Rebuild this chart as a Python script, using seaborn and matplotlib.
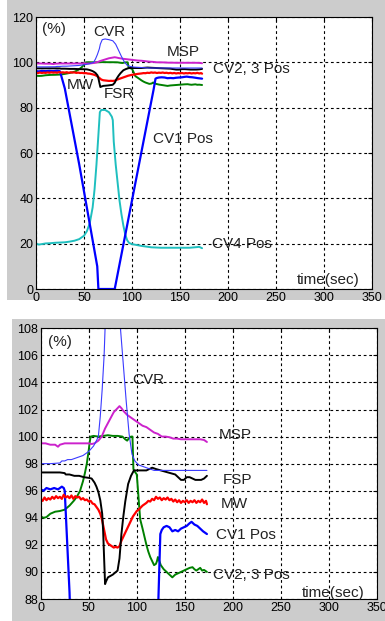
import numpy as np
import pandas as pd
import matplotlib
matplotlib.use("Agg")
import matplotlib.pyplot as plt
import seaborn as sns
from matplotlib.patches import Rectangle

sns.set_style("white")
plt.rcParams['font.family'] = ['Liberation Sans', 'DejaVu Sans']

# ---------------- data ----------------
cv1_t = [0, 3, 6, 10, 14, 18, 22, 24, 25, 30, 45, 63.8, 65, 82, 122.5, 124.5, 126, 128, 131, 134,
         137, 140, 143, 146, 149, 152, 155, 157, 160, 163, 166, 169, 171, 173]
cv1_v = [96.1, 96.0, 96.2, 96.1, 96.2, 96.1, 96.3, 96.2, 96.0, 88.5, 55, 10, 0, 0, 88, 92.8, 93.1, 93.3,
         93.4, 93.3, 93.0, 93.1, 93.0, 93.2, 93.3, 93.4, 93.6, 93.7, 93.5, 93.4, 93.2, 93.0, 92.9, 92.8]

cvr_t = [0, 10, 20, 22, 25, 28, 32, 36, 40, 44, 48, 50, 55, 58, 60, 62, 64, 66, 67, 69, 72, 76,
         80, 83, 86, 89, 92, 95, 98, 102, 106, 110, 114, 118, 122, 130, 173]
cvr_v = [98.0, 98.0, 98.05, 98.2, 98.2, 98.3, 98.3, 98.4, 98.5, 98.6, 98.8, 98.9, 99.3, 99.7, 100.0,
         101.5, 103.5, 106.0, 108.0, 110.0, 110.3, 110.0, 109.5, 108.0, 105.3, 102.6, 100.2, 98.7,
         98.2, 97.9, 97.8, 97.7, 97.6, 97.5, 97.5, 97.5, 97.5]

msp_t = [0, 5, 10, 15, 18, 20, 25, 30, 35, 40, 45, 50, 53, 56, 60, 63.5, 67, 70, 73, 76, 80, 82,
         84, 86, 90, 94, 98, 102, 106, 110, 114, 118, 122, 126, 130, 134, 138, 142, 146, 150, 154,
         158, 162, 166, 170, 173]
msp_v = [99.5, 99.5, 99.4, 99.4, 99.25, 99.4, 99.5, 99.5, 99.5, 99.5, 99.5, 99.5, 99.45, 99.5, 99.7,
         100.0, 100.6, 101.0, 101.4, 101.8, 102.1, 102.25, 102.1, 101.9, 101.6, 101.4, 101.2, 101.0,
         100.8, 100.7, 100.5, 100.3, 100.2, 100.0, 100.0, 99.95, 99.85, 99.85, 99.8, 99.8, 99.8,
         99.8, 99.8, 99.8, 99.75, 99.6]

fsp_t = [0, 5, 10, 15, 20, 25, 26, 30, 35, 40, 45, 50, 53, 56, 58, 60, 62, 64, 65, 66, 67, 68, 70,
         75, 80, 82, 84, 86, 88, 91, 94, 97, 100, 105, 110, 113, 116, 120, 125, 130, 135, 140, 143,
         146, 149, 152, 155, 158, 161, 164, 167, 170, 173]
fsp_v = [97.35, 97.35, 97.35, 97.35, 97.35, 97.3, 97.2, 97.2, 97.1, 97.1, 97.0, 96.95, 96.9, 96.6,
         96.3, 95.9, 95.3, 94.3, 93.0, 91.0, 89.1, 89.3, 89.6, 89.8, 90.1, 91.0, 92.8, 94.1, 95.2,
         96.5, 97.1, 97.5, 97.5, 97.5, 97.5, 97.6, 97.7, 97.6, 97.5, 97.4, 97.3, 97.2, 97.0, 96.8,
         96.8, 97.0, 97.0, 96.9, 96.8, 96.8, 96.8, 96.9, 97.1]

mw_t = [0, 2, 4, 6, 8, 10, 12, 14, 16, 18, 20, 22, 24, 26, 28, 30, 32, 34, 36, 38, 40, 42, 44, 46,
        48, 50, 52, 54, 56, 58, 60, 62, 64, 66, 68, 70, 72, 74, 76, 78, 80, 82, 84, 86, 88, 90, 92,
        94, 96, 98, 100, 102, 104, 106, 108, 110, 112, 114, 116, 118, 120, 122, 124, 126, 128, 130,
        132, 134, 136, 138, 140, 142, 144, 146, 148, 150, 152, 154, 156, 158, 160, 162, 164, 166,
        168, 170, 172, 173]
mw_v = [95.4, 95.25, 95.5, 95.3, 95.45, 95.35, 95.55, 95.4, 95.6, 95.45, 95.55, 95.4, 95.7, 95.5,
        95.6, 95.45, 95.65, 95.4, 95.6, 95.5, 95.55, 95.35, 95.45, 95.3, 95.35, 95.2, 95.25, 95.05,
        95.0, 94.8, 94.6, 94.3, 93.8, 93.1, 92.4, 92.1, 92.0, 91.9, 91.8, 91.85, 91.8, 91.9, 92.3,
        92.6, 92.9, 93.2, 93.5, 93.8, 94.1, 94.3, 94.5, 94.6, 94.75, 94.9, 95.0, 95.1, 95.25, 95.2,
        95.4, 95.3, 95.55, 95.4, 95.5, 95.3, 95.45, 95.35, 95.5, 95.3, 95.4, 95.2, 95.35, 95.15,
        95.3, 95.1, 95.25, 95.15, 95.3, 95.1, 95.25, 95.15, 95.3, 95.1, 95.25, 95.15, 95.35, 95.1,
        95.25, 95.0]

cv23_t = [0, 3, 6, 10, 15, 20, 25, 30, 35, 38, 41, 44, 46, 48, 50, 51, 52, 55, 60, 65, 70, 75, 80,
          85, 88, 90, 92, 94, 95.5, 96.5, 98, 100, 101.5, 103.5, 106, 108, 110, 112, 114, 116, 118,
          120, 121, 122, 123, 125, 128, 131, 134, 137, 140, 143, 146, 149, 152, 155, 158, 160, 162,
          164, 166, 168, 170, 173]
cv23_v = [94.1, 94.0, 94.05, 94.3, 94.45, 94.5, 94.6, 94.9, 95.3, 95.6, 96.0, 96.7, 97.3, 98.0,
          99.0, 99.6, 100.0, 100.05, 100.0, 100.05, 100.1, 100.05, 100.05, 100.0, 99.8, 99.7, 99.9,
          100.0, 100.0, 97.6, 97.4, 97.2, 95.8, 93.9, 93.2, 92.6, 92.0, 91.5, 91.1, 90.8, 90.5,
          90.6, 90.8, 91.1, 90.9, 90.5, 90.2, 90.0, 89.8, 89.6, 89.8, 89.9, 90.0, 90.1, 90.2, 90.3,
          90.35, 90.2, 90.1, 90.2, 90.3, 90.1, 90.15, 90.0]

cv4_t = [0, 3, 6, 10, 15, 20, 25, 30, 35, 40, 45, 50, 53, 56, 59, 61, 63, 65, 66.5, 68, 72, 76,
         79, 80, 81, 83, 85, 87, 89, 91, 93, 95, 97, 100, 105, 110, 115, 120, 130, 140, 150, 160,
         168, 170, 173]
cv4_v = [20, 19.6, 19.8, 20.1, 20.2, 20.4, 20.5, 20.6, 20.9, 21.3, 22.0, 23.5, 25.5, 29, 36, 44,
         55, 68, 78, 79, 79, 78, 76, 74.5, 65, 55, 47, 39, 33, 28, 24, 21.5, 20.3, 19.8, 19.4, 19,
         18.7, 18.4, 18.2, 18.2, 18.2, 18.2, 18.5, 18.6, 18.0]

x_ticks = [0, 50, 100, 150, 200, 250, 300, 350]
top_yticks = [0, 20, 40, 60, 80, 100, 120]
bot_yticks = [88, 90, 92, 94, 96, 98, 100, 102, 104, 106, 108]

series = [
    ("CV4 Pos", cv4_t, cv4_v, "#1fbfbf", 1.4),
    ("CV2, 3 Pos", cv23_t, cv23_v, "#008000", 1.4),
    ("MSP", msp_t, msp_v, "#cc22cc", 1.4),
    ("CV1 Pos", cv1_t, cv1_v, "#0000ff", 1.6),
    ("MW", mw_t, mw_v, "#ff0000", 1.6),
    ("FSP", fsp_t, fsp_v, "#000000", 1.4),
    ("CVR", cvr_t, cvr_v, "#3a3aff", 0.8),
]

# ---------------- figure ----------------
W, H = 385, 621
fig = plt.figure(figsize=(W / 100, H / 100), dpi=100)
fig.patch.set_facecolor("white")
fig.patches.append(Rectangle((7 / W, 1 - 300 / H), 378 / W, 300 / H, transform=fig.transFigure,
                             facecolor="#cccccc", edgecolor="none", zorder=-10))
fig.patches.append(Rectangle((12 / W, 0), 373 / W, 302 / H, transform=fig.transFigure,
                             facecolor="#cccccc", edgecolor="none", zorder=-10))

ax1 = fig.add_axes([36 / W, 1 - 289 / H, 336 / W, 272 / H])
ax2 = fig.add_axes([40.7 / W, 1 - 599 / H, 336.3 / W, 270.7 / H])

for ax in (ax1, ax2):
    for name, t, v, c, lw in series:
        df = pd.DataFrame({"t": t, "v": v})
        sns.lineplot(data=df, x="t", y="v", ax=ax, color=c, linewidth=lw,
                     estimator=None, sort=False, legend=False)
    ax.set_facecolor("white")
    ax.set_xlim(0, 350)
    ax.set_xticks(x_ticks)
    ax.set_xlabel("")
    ax.set_ylabel("")
    ax.grid(True, color="black", linestyle=(0, (2.5, 2.5)), linewidth=0.8)
    ax.tick_params(direction="in", length=3, labelsize=9, colors="black", pad=2,
                   top=True, right=True)
    for s in ax.spines.values():
        s.set_color("black")
        s.set_linewidth(0.8)

ax1.set_ylim(0, 120)
ax1.set_yticks(top_yticks)
ax2.set_ylim(88, 108)
ax2.set_yticks(bot_yticks)

tc = "#222222"
fs = 11
# top labels
ax1.text(6, 114.7, "(%)", fontsize=fs, color=tc, va="center")
ax1.text(76, 113.5, "CVR", fontsize=fs, color=tc, va="center", ha="center")
ax1.text(153, 104.6, "MSP", fontsize=fs, color=tc, va="center", ha="center")
ax1.text(184, 97, "CV2, 3 Pos", fontsize=fs, color=tc, va="center")
ax1.text(46, 90, "MW", fontsize=fs, color=tc, va="center", ha="center")
ax1.text(86, 86, "FSR", fontsize=fs, color=tc, va="center", ha="center")
ax1.text(122, 66, "CV1 Pos", fontsize=fs, color=tc, va="center")
ax1.text(183, 20, "CV4 Pos", fontsize=fs, color=tc, va="center")
ax1.text(272, 4, "time(sec)", fontsize=fs, color=tc, va="center")

# bottom labels
ax2.text(8, 107.0, "(%)", fontsize=fs, color=tc, va="center")
ax2.text(95, 104.2, "CVR", fontsize=fs, color=tc, va="center")
ax2.text(185, 100.1, "MSP", fontsize=fs, color=tc, va="center")
ax2.text(189, 96.8, "FSP", fontsize=fs, color=tc, va="center")
ax2.text(187, 95.0, "MW", fontsize=fs, color=tc, va="center")
ax2.text(182.6, 92.7, "CV1 Pos", fontsize=fs, color=tc, va="center")
ax2.text(179, 89.8, "CV2, 3 Pos", fontsize=fs, color=tc, va="center")
ax2.text(272, 88.45, "time(sec)", fontsize=fs, color=tc, va="center")

fig.savefig("out.png", dpi=100)
